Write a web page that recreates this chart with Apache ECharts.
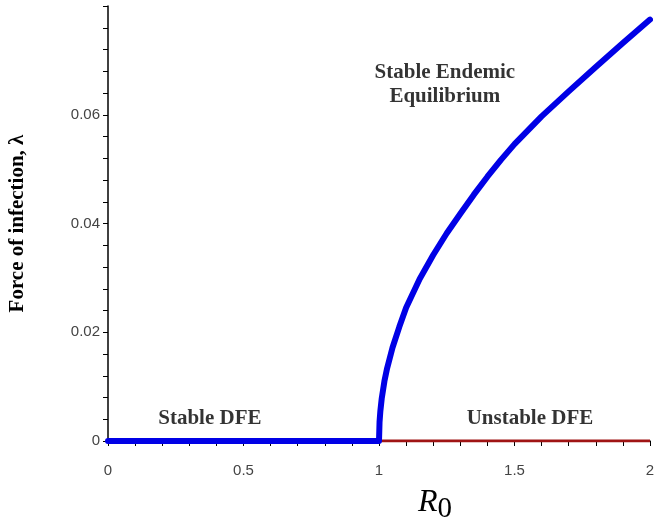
<!DOCTYPE html>
<html>
<head>
<meta charset="utf-8">
<script src="https://cdn.jsdelivr.net/npm/echarts@6/dist/echarts.min.js"></script>
<style>
  html, body { margin: 0; padding: 0; background: #fff; }
  #main { width: 658px; height: 523px; }
</style>
</head>
<body>
<div id="main"></div>
<script>
// endemic branch (R0 > 1)
var r0Values = [1, 1.002, 1.005, 1.01, 1.02, 1.03, 1.05, 1.075, 1.1, 1.15, 1.2, 1.25, 1.3, 1.35, 1.4, 1.45, 1.5, 1.6, 1.7, 1.8, 1.9, 2];
var lambdaValues = [0, 0.0035, 0.0055, 0.0078, 0.011, 0.0134, 0.0172, 0.021, 0.0245, 0.0298, 0.0342, 0.0382, 0.0418, 0.0453, 0.0486, 0.0517, 0.0546, 0.0597, 0.0643, 0.0688, 0.0732, 0.0775];
// disease free equilibrium
var dfeStableX = [0, 1];
var dfeUnstableX = [1, 2];
// text annotations [x, y, text]
var notes = [
    [0.376, 0.0042, 'Stable DFE'],
    [1.557, 0.0042, 'Unstable DFE'],
    [1.243, 0.0656, 'Stable Endemic\nEquilibrium']
];

var endemicData = r0Values.map(function (x, i) { return [x, lambdaValues[i]]; });
var stableData = dfeStableX.map(function (x) { return [x, 0]; }).concat(endemicData.slice(1));
var unstableData = dfeUnstableX.map(function (x) { return [x, 0]; });

var chart = echarts.init(document.getElementById('main'));
chart.setOption({
    animation: false,
    grid: { left: 108, right: 8, top: 6, bottom: 82, outerBoundsMode: 'none' },
    xAxis: {
        type: 'value',
        min: 0,
        max: 2,
        interval: 0.1,
        name: '{r|R}{s|0}',
        nameLocation: 'middle',
        nameGap: 46,
        nameTextStyle: {
            padding: [0, 0, 0, 112],
            rich: {
                r: { fontFamily: 'Liberation Serif', fontStyle: 'italic', fontSize: 32, color: '#000', verticalAlign: 'top' },
                s: { fontFamily: 'Liberation Serif', fontSize: 29, color: '#000', verticalAlign: 'top', padding: [8, 0, 0, 0] }
            }
        },
        axisLine: { onZero: false, lineStyle: { color: '#000', width: 1.5 } },
        axisTick: { length: 5, lineStyle: { color: '#000', width: 1 } },
        splitLine: { show: false },
        axisLabel: {
            margin: 22,
            fontFamily: 'Liberation Sans',
            fontSize: 15,
            color: '#444',
            hideOverlap: false,
            formatter: function (v) {
                var k = v / 0.5;
                return Math.abs(k - Math.round(k)) < 1e-6 ? String(Number(v.toFixed(1))) : '';
            }
        }
    },
    yAxis: {
        type: 'value',
        min: 0,
        max: 0.08,
        interval: 0.004,
        name: 'Force of infection, λ',
        nameLocation: 'middle',
        nameGap: 80,
        nameTextStyle: {
            fontFamily: 'Liberation Serif',
            fontWeight: 'bold',
            fontSize: 21,
            color: '#000'
        },
        axisLine: { show: true, lineStyle: { color: '#000', width: 1.5 } },
        axisTick: { show: true, length: 5, lineStyle: { color: '#000', width: 1 } },
        splitLine: { show: false },
        axisLabel: {
            margin: 8,
            fontFamily: 'Liberation Sans',
            fontSize: 15,
            color: '#444',
            formatter: function (v) {
                var k = v / 0.02;
                if (v > 0.079) return '';
                return Math.abs(k - Math.round(k)) < 1e-6 ? String(Number(v.toFixed(3))) : '';
            }
        }
    },
    series: [
        {
            name: 'Unstable DFE',
            type: 'line',
            data: unstableData,
            symbol: 'none',
            lineStyle: { color: '#a01414', width: 3 },
            z: 2
        },
        {
            name: 'Stable',
            type: 'line',
            data: stableData,
            symbol: 'none',
            lineStyle: { color: '#0000e6', width: 6, cap: 'round', join: 'round' },
            z: 3
        },
        {
            name: 'notes',
            type: 'scatter',
            symbolSize: 0,
            silent: true,
            data: notes.map(function (n) { return { value: [n[0], n[1]], name: n[2] }; }),
            label: {
                show: true,
                position: 'inside',
                formatter: function (p) { return p.name; },
                fontFamily: 'Liberation Serif',
                fontWeight: 'bold',
                fontSize: 21,
                lineHeight: 24,
                color: '#000',
                align: 'center'
            },
            z: 5
        }
    ]
});
</script>
</body>
</html>
